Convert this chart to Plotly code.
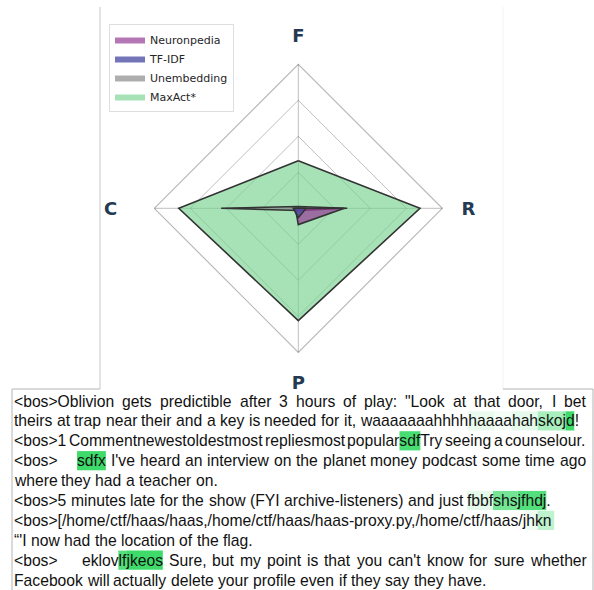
import html
import plotly.graph_objects as go

# ---------------- radar data ----------------
AXES = ["F", "R", "P", "C"]
AXIS_LABELS = ["F", "R", "P", "C\u2002\u2002"]

MAXACT = [0.33, 0.845, 0.78, 0.83]
UNEMBEDDING = [0.012, 0.34, 0.015, 0.536]
NEURONPEDIA = [0.0, 0.32, 0.113, 0.02]
TFIDF = [0.0, 0.055, 0.065, 0.035]

SERIES_NAMES = ["MaxAct*", "Unembedding", "Neuronpedia", "TF-IDF"]
SERIES_VALUES = [MAXACT, UNEMBEDDING, NEURONPEDIA, TFIDF]
SERIES_FILLS = ["rgba(120,210,145,0.65)", "rgba(140,140,140,0.7)",
                "rgba(150,60,150,0.7)", "rgba(70,70,160,0.75)"]
LEGEND_RANKS = [4, 3, 1, 2]
RING_TICKS = [0.25, 0.5, 0.75]

# ---------------- text data: (segment, activation) ----------------
LINE_1 = [("<bos>Oblivion gets predictible after 3 hours of play: \"Look at that door, I bet", 0.0)]
LINE_2 = [("theirs at trap near their and a key is needed for it, waaaaaaahhhh", 0.0),
          ("haa", 0.10), ("aa", 0.05), ("hah", 0.12), ("sko", 0.40), ("j", 0.50), ("d", 0.90), ("!", 0.0)]
LINE_3 = [("<bos>1 Commentnewestoldestmost repliesmost popular", 0.0), ("sdf", 0.85),
          ("Try seeing a counselour.", 0.0)]
LINE_4 = [("<bos>    ", 0.0), ("sdfx", 0.90),
          (" I've heard an interview on the planet money podcast some time ago", 0.0)]
LINE_5 = [("where they had a teacher on.", 0.0)]
LINE_6 = [("<bos>5 minutes late for the show (FYI archive-listeners) and just ", 0.0),
          ("fbbf", 0.12), ("shs", 0.65), ("jfhdj", 0.80), (".", 0.0)]
LINE_7 = [("<bos>[/home/ctf/haas/haas,/home/ctf/haas/haas-proxy.py,/home/ctf/haas/", 0.0),
          ("jh", 0.08), ("kn", 0.30)]
LINE_8 = [("\u201c'I now had the location of the flag.", 0.0)]
LINE_9 = [("<bos>    eklov", 0.0), ("lf", 0.80), ("jkeos", 0.90),
          (" Sure, but my point is that you can't know for sure whether", 0.0)]
LINE_10 = [("Facebook will actually delete your profile even if they say they have.", 0.0)]

TEXT_LINES = [LINE_1, LINE_2, LINE_3, LINE_4, LINE_5, LINE_6, LINE_7, LINE_8, LINE_9, LINE_10]
JUSTIFY = [True, False, True, True, False, False, False, False, True, False]

# ---------------- styling ----------------
W, H = 594, 590
TXT_FONT = "Liberation Sans, Arial, sans-serif"
TXT_SIZE = 15.7
TXT_LEFT, TXT_RIGHT = 14, 586
LINE_TOP, LINE_STEP = 401, 19.9
HL_HALF = 9.6
HL_RGB = (40, 215, 90)

# Helvetica / Arial advance widths (1/1000 em)
CW = {' ': 278, '!': 278, '"': 355, '#': 556, '$': 556, '%': 889, '&': 667, "'": 191,
      '(': 333, ')': 333, '*': 389, '+': 584, ',': 278, '-': 333, '.': 278, '/': 278,
      ':': 278, ';': 278, '<': 584, '=': 584, '>': 584, '?': 556, '@': 1015,
      'A': 667, 'B': 667, 'C': 722, 'D': 722, 'E': 667, 'F': 611, 'G': 778, 'H': 722,
      'I': 278, 'J': 500, 'K': 667, 'L': 556, 'M': 833, 'N': 722, 'O': 778, 'P': 667,
      'Q': 778, 'R': 722, 'S': 667, 'T': 611, 'U': 722, 'V': 667, 'W': 944, 'X': 667,
      'Y': 667, 'Z': 611, '[': 278, '\\': 278, ']': 278, '^': 469, '_': 556, '`': 333,
      'a': 556, 'b': 556, 'c': 500, 'd': 556, 'e': 556, 'f': 278, 'g': 556, 'h': 556,
      'i': 222, 'j': 222, 'k': 500, 'l': 222, 'm': 833, 'n': 556, 'o': 556, 'p': 556,
      'q': 556, 'r': 333, 's': 500, 't': 278, 'u': 556, 'v': 500, 'w': 722, 'x': 500,
      'y': 500, 'z': 500, '{': 334, '|': 260, '}': 334, '~': 584, '\u201c': 333,
      '\u201d': 333, '\u2018': 222, '\u2019': 222}
for _d in "0123456789":
    CW[_d] = 556


def tw(s):
    return sum(CW.get(c, 556) for c in s) * TXT_SIZE / 1000.0


def hl_color(a):
    r, g, b = (round(255 + (c - 255) * a) for c in HL_RGB)
    return f"rgb({r},{g},{b})"


fig = go.Figure()

for name, vals, fillc, rank in zip(SERIES_NAMES, SERIES_VALUES, SERIES_FILLS, LEGEND_RANKS):
    fig.add_trace(go.Scatterpolar(
        r=vals, theta=AXES, mode="lines", fill="toself", fillcolor=fillc,
        line=dict(width=0, color=fillc), name=name, legendrank=rank, hoverinfo="skip"))
    fig.add_trace(go.Scatterpolar(
        r=vals + vals[:1], theta=AXES + AXES[:1], mode="lines",
        line=dict(width=1.6, color="#333333"), showlegend=False, hoverinfo="skip"))

# ---------------- text panel ----------------
hl_shapes, word_annotations = [], []
for i, (segs, just) in enumerate(zip(TEXT_LINES, JUSTIFY)):
    chars = []
    for s, a in segs:
        chars += [(c, a) for c in s]
    items = []
    for c, a in chars:
        if c == ' ':
            if items and items[-1][0] == 'sp':
                items[-1][1] += 1
            else:
                items.append(['sp', 1])
        else:
            if not items or items[-1][0] != 'w':
                items.append(['w', []])
            chunks = items[-1][1]
            if chunks and chunks[-1][1] == a:
                chunks[-1][0] += c
            else:
                chunks.append([c, a])
    words_w = sum(tw(ch[0]) for it in items if it[0] == 'w' for ch in it[1])
    n_sp = sum(it[1] for it in items if it[0] == 'sp')
    sp_w = tw(' ')
    if just and n_sp:
        sp_w = (TXT_RIGHT - TXT_LEFT - words_w) / n_sp
    x = TXT_LEFT
    ypx = LINE_TOP + i * LINE_STEP
    for it in items:
        if it[0] == 'sp':
            x += it[1] * sp_w
            continue
        word = "".join(ch[0] for ch in it[1])
        word_annotations.append(dict(
            x=(x - 1) / W, y=1 - ypx / H, xref="paper", yref="paper", xanchor="left",
            yanchor="middle", text=html.escape(word, quote=False), showarrow=False,
            font=dict(family=TXT_FONT, size=TXT_SIZE, color="#111111"),
            borderpad=1, borderwidth=0))
        for txt, a in it[1]:
            w = tw(txt)
            if a > 0:
                hl_shapes.append(dict(
                    type="rect", xref="paper", yref="paper", layer="below",
                    x0=x / W, x1=(x + w) / W, y0=1 - (ypx + HL_HALF) / H, y1=1 - (ypx - HL_HALF) / H,
                    fillcolor=hl_color(a), line=dict(width=0)))
            x += w

frame_shapes = [
    dict(type="line", xref="paper", yref="paper", x0=100 / W, x1=100 / W, y0=1 - 7 / H, y1=1 - 389 / H,
         line=dict(color="#c8c8c8", width=1)),
    dict(type="line", xref="paper", yref="paper", x0=503 / W, x1=503 / W, y0=1 - 7 / H, y1=1 - 389 / H,
         line=dict(color="#f2f2f2", width=1)),
    dict(type="line", xref="paper", yref="paper", x0=12 / W, x1=100 / W, y0=1 - 389 / H, y1=1 - 389 / H,
         line=dict(color="#b4b4b4", width=1)),
    dict(type="line", xref="paper", yref="paper", x0=503 / W, x1=593 / W, y0=1 - 389 / H, y1=1 - 389 / H,
         line=dict(color="#b4b4b4", width=1)),
    dict(type="line", xref="paper", yref="paper", x0=12 / W, x1=12 / W, y0=1 - 389 / H, y1=0,
         line=dict(color="#b4b4b4", width=1)),
    dict(type="line", xref="paper", yref="paper", x0=593 / W, x1=593 / W, y0=1 - 389 / H, y1=0,
         line=dict(color="#b4b4b4", width=1)),
]

cx, cy, rad = 298.3, 208.3, 144
fig.update_layout(
    template="none",
    width=W, height=H, autosize=False,
    margin=dict(l=0, r=0, t=0, b=0),
    paper_bgcolor="white",
    polar=dict(
        domain=dict(x=[(cx - rad) / W, (cx + rad) / W], y=[1 - (cy + rad) / H, 1 - (cy - rad) / H]),
        bgcolor="rgba(0,0,0,0)",
        gridshape="linear",
        radialaxis=dict(range=[0, 1], tickvals=RING_TICKS, showticklabels=False, ticks="",
                        showline=False, gridcolor="rgba(0,0,0,0.25)", gridwidth=1),
        angularaxis=dict(rotation=90, direction="clockwise", categoryorder="array",
                         categoryarray=AXES, tickmode="array", tickvals=AXES, ticktext=AXIS_LABELS,
                         showline=True, linecolor="rgba(0,0,0,0.28)",
                         linewidth=1.2, gridcolor="rgba(0,0,0,0.25)", gridwidth=1,
                         ticks="outside", ticklen=15, tickcolor="rgba(0,0,0,0)",
                         tickfont=dict(family="DejaVu Sans", size=18, color="#253a52",
                                       weight="bold")),
    ),
    showlegend=True,
    legend=dict(x=109 / W, y=1 - 24 / H, xanchor="left", yanchor="top",
                bgcolor="white", bordercolor="#dedede", borderwidth=1,
                font=dict(family="DejaVu Sans", size=11, color="#262626"),
                itemwidth=30, tracegroupgap=0),
    annotations=word_annotations,
    shapes=hl_shapes + frame_shapes,
)

fig.write_html("out.html", config={"displayModeBar": False},
               post_script="document.body.style.margin='0';")
